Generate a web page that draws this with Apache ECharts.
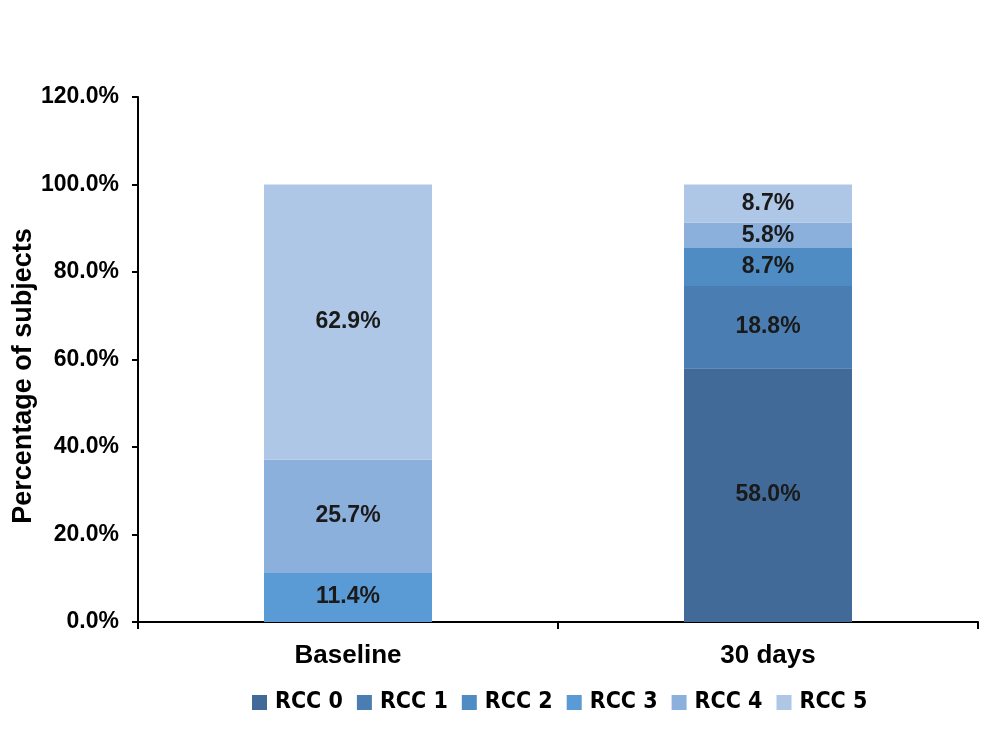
<!DOCTYPE html>
<html>
<head>
<meta charset="utf-8">
<script src="https://cdn.jsdelivr.net/npm/echarts@6/dist/echarts.min.js"></script>
<style>
  html, body { margin: 0; padding: 0; background: #fff; }
  #chart { width: 986px; height: 743px; }
</style>
</head>
<body>
<div id="chart"></div>
<script>
const categories = ["Baseline", "30 days"];
const seriesNames = ["RCC 0", "RCC 1", "RCC 2", "RCC 3", "RCC 4", "RCC 5"];
const rcc0 = [0, 58.0];
const rcc1 = [0, 18.8];
const rcc2 = [0, 8.7];
const rcc3 = [11.4, 0];
const rcc4 = [25.7, 5.8];
const rcc5 = [62.9, 8.7];
const yTicks = [0, 20, 40, 60, 80, 100, 120];

const colors = ["#416a98", "#4a7db1", "#4f8cc4", "#5a9ad5", "#8bb0dc", "#aec7e6"];
const values = [rcc0, rcc1, rcc2, rcc3, rcc4, rcc5];

const chart = echarts.init(document.getElementById("chart"));

const series = seriesNames.map((name, i) => ({
  name: name,
  type: "bar",
  stack: "total",
  barWidth: "40%",
  data: values[i],
  itemStyle: { color: colors[i] },
  label: {
    show: true,
    position: "inside",
    color: "#1a1a1a",
    fontFamily: "Liberation Sans",
    fontWeight: "bold",
    fontSize: 23,
    formatter: (p) => (p.value > 0 ? p.value.toFixed(1) + "%" : "")
  }
}));

chart.setOption({
  animation: false,
  color: colors,
  grid: {
    left: 138, right: 8, top: 97, bottom: 121,
    containLabel: false,
    outerBoundsMode: "none"
  },
  legend: {
    bottom: 24,
    left: 247,
    itemWidth: 15,
    itemHeight: 15,
    itemGap: 14,
    icon: "rect",
    data: seriesNames,
    textStyle: {
      fontFamily: "DejaVu Sans Condensed, Liberation Sans",
      fontWeight: "bold",
      fontSize: 23,
      color: "#000",
      padding: [0, 0, 0, 3]
    }
  },
  xAxis: {
    type: "category",
    data: categories,
    axisLine: { lineStyle: { color: "#000", width: 2 } },
    axisTick: { show: true, length: 7, lineStyle: { color: "#000", width: 2 } },
    axisLabel: {
      margin: 21,
      color: "#000",
      fontFamily: "Liberation Sans",
      fontWeight: "bold",
      fontSize: 26
    }
  },
  yAxis: {
    type: "value",
    min: yTicks[0],
    max: yTicks[yTicks.length - 1],
    interval: 20,
    name: "Percentage of subjects",
    nameLocation: "middle",
    nameGap: 101,
    nameMoveOverlap: false,
    nameTextStyle: {
      color: "#000",
      fontFamily: "Liberation Sans",
      fontWeight: "bold",
      fontSize: 27,
      padding: [0, 33, 0, 0]
    },
    axisLine: { show: true, lineStyle: { color: "#000", width: 2 } },
    axisTick: { show: true, length: 6, lineStyle: { color: "#000", width: 2 } },
    splitLine: { show: false },
    axisLabel: {
      margin: 19,
      color: "#000",
      fontFamily: "Liberation Sans",
      fontWeight: "bold",
      fontSize: 23,
      formatter: (v) => v.toFixed(1) + "%"
    }
  },
  series: series
});
</script>
</body>
</html>
